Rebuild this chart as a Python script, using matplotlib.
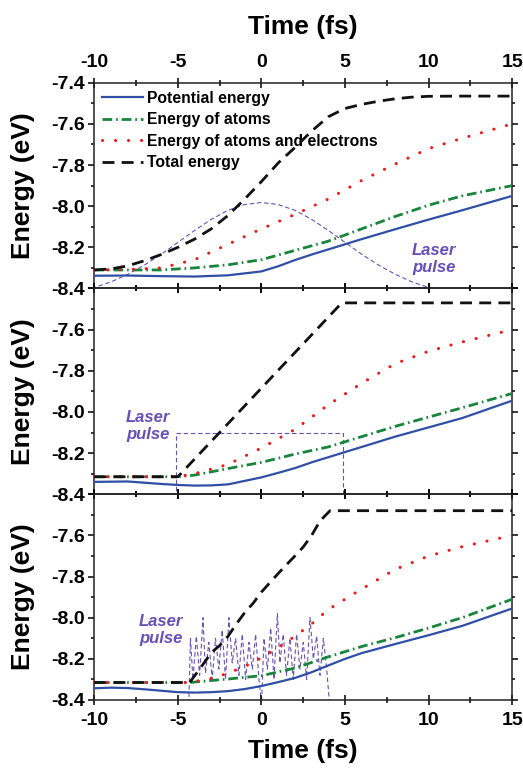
import matplotlib
matplotlib.use("Agg")
import matplotlib.pyplot as plt
from matplotlib.ticker import MultipleLocator, FixedLocator

plt.rcParams['font.family'] = ['Liberation Sans', 'DejaVu Sans']
plt.rcParams['font.weight'] = 'bold'

# ---------------- data ----------------
labels = ["Potential energy", "Energy of atoms",
          "Energy of atoms and electrons", "Total energy"]

# Panel 1 (Gaussian pulse)
p1_pot_t = [-10, -8, -6, -4, -2, 0, 1, 2, 3, 4, 5, 6, 8, 10, 12, 15]
p1_pot_e = [-8.338, -8.337, -8.340, -8.342, -8.336, -8.317, -8.292, -8.262, -8.235, -8.21, -8.185, -8.16, -8.112, -8.065, -8.02, -7.95]
p1_atm_t = [-10, -6, -4, -2, 0, 2, 4, 6, 8, 10, 12, 15]
p1_atm_e = [-8.31, -8.31, -8.30, -8.285, -8.26, -8.215, -8.17, -8.11, -8.05, -7.995, -7.95, -7.90]
p1_ae_t = [-10, -8, -6, -4, -2, 0, 2, 4, 6, 8, 10, 12, 15]
p1_ae_e = [-8.31, -8.308, -8.30, -8.26, -8.185, -8.11, -8.04, -7.965, -7.875, -7.795, -7.72, -7.67, -7.60]
p1_tot_t = [-10, -9, -8, -7, -6, -5, -4, -3, -2, -1, 0, 1, 2, 3, 4, 5, 6, 7, 8, 9, 10, 12, 15]
p1_tot_e = [-8.31, -8.305, -8.29, -8.265, -8.235, -8.20, -8.16, -8.11, -8.045, -7.965, -7.88, -7.79, -7.715,
            -7.635, -7.565, -7.525, -7.505, -7.49, -7.478, -7.47, -7.466, -7.465, -7.465]
p1_las_t = [-11, -10, -9, -8, -7, -6, -5, -4, -3, -2, -1, 0, 1, 2, 3, 4, 5, 6, 7, 8, 9, 10, 11]
p1_las_e = [-8.415, -8.395, -8.368, -8.331, -8.286, -8.234, -8.176, -8.118, -8.064, -8.020, -7.992, -7.982,
            -7.992, -8.020, -8.064, -8.118, -8.176, -8.234, -8.286, -8.331, -8.368, -8.395, -8.415]

# Panel 2 (square pulse)
p2_pot_t = [-10, -8, -6, -5, -4, -3, -2, -1, 0, 1, 2, 3, 4, 5, 6, 8, 10, 12, 15]
p2_pot_e = [-8.34, -8.338, -8.35, -8.355, -8.358, -8.357, -8.352, -8.335, -8.318, -8.296, -8.273, -8.245,
            -8.22, -8.195, -8.17, -8.12, -8.075, -8.03, -7.945]
p2_atm_t = [-10, -5, -4, -2, 0, 2, 4, 6, 8, 10, 12, 15]
p2_atm_e = [-8.315, -8.315, -8.307, -8.275, -8.245, -8.205, -8.17, -8.12, -8.07, -8.025, -7.98, -7.91]
p2_ae_t = [-10, -5, -4, -2, 0, 2, 4, 6, 8, 10, 12, 15]
p2_ae_e = [-8.315, -8.315, -8.30, -8.255, -8.175, -8.085, -7.965, -7.86, -7.765, -7.705, -7.66, -7.60]
p2_tot_t = [-10, -5, 4.8, 15]
p2_tot_e = [-8.315, -8.315, -7.47, -7.47]
p2_las_t = [-5.1, -5.1, 4.85, 4.85]
p2_las_e = [-8.42, -8.10, -8.10, -8.42]

# Panel 3 (oscillating pulse)
p3_pot_t = [-10, -9, -8, -7, -6, -5, -4, -3, -2, -1, 0, 1, 2, 3, 4, 5, 6, 8, 10, 12, 15]
p3_pot_e = [-8.343, -8.34, -8.342, -8.348, -8.355, -8.362, -8.364, -8.362, -8.357, -8.347, -8.332, -8.313,
            -8.293, -8.265, -8.232, -8.20, -8.172, -8.128, -8.085, -8.04, -7.955]
p3_atm_t = [-10, -4.3, -2, 0, 2, 4, 6, 8, 10, 12, 15]
p3_atm_e = [-8.315, -8.315, -8.298, -8.282, -8.245, -8.19, -8.14, -8.097, -8.05, -8.0, -7.91]
p3_ae_t = [-10, -4.3, -3, -2, -1, 0, 1, 2, 3, 4, 5, 6, 8, 10, 12, 15]
p3_ae_e = [-8.315, -8.315, -8.295, -8.27, -8.237, -8.195, -8.145, -8.09, -8.03, -7.96, -7.91, -7.86,
           -7.765, -7.70, -7.655, -7.60]
p3_tot_t = [-10, -4.3, -3.7, -3.0, -2.5, -2.0, -1.5, -1.0, -0.5, 0.0, 0.5, 1.0, 1.5, 2.0, 2.5, 3.0, 3.5, 4.1, 15]
p3_tot_e = [-8.315, -8.315, -8.25, -8.17, -8.135, -8.09, -8.03, -7.975, -7.93, -7.875, -7.83, -7.785,
            -7.742, -7.70, -7.656, -7.60, -7.53, -7.48, -7.48]
p3_las_t = [-4.35, -4.25, -4.1, -3.9, -3.7, -3.5, -3.35, -3.15, -2.95, -2.75, -2.55, -2.35, -2.15, -1.95,
            -1.75, -1.55, -1.35, -1.15, -0.95, -0.75, -0.55, -0.35, -0.15, 0.0, 0.15, 0.35, 0.55, 0.75,
            0.95, 1.1, 1.3, 1.5, 1.7, 1.9, 2.1, 2.3, 2.5, 2.7, 2.9, 3.1, 3.3, 3.5, 3.7, 3.9, 4.05]
p3_las_e = [-8.42, -8.10, -8.30, -8.09, -8.28, -8.00, -8.27, -8.12, -8.30, -8.10, -8.25, -8.06, -8.30,
            -8.00, -8.22, -8.10, -8.28, -8.08, -8.30, -8.12, -8.25, -8.08, -8.30, -8.42, -8.10, -8.25,
            -8.05, -8.30, -7.98, -8.22, -8.08, -8.28, -8.10, -8.30, -8.08, -8.25, -8.12, -8.30, -8.0,
            -8.20, -8.09, -8.28, -8.10, -8.25, -8.40]

xticks = [-10, -5, 0, 5, 10, 15]
yticks = [-8.4, -8.2, -8.0, -7.8, -7.6, -7.4]

laser_text_pos = [(10.3, -8.255), (-6.8, -8.07), (-6.0, -8.06)]

# ---------------- style ----------------
c_blue = '#2f4fa6'
c_green = '#17853a'
c_red = '#f01818'
c_black = '#111111'
c_purple = '#6650b8'

fig = plt.figure(figsize=(5.23, 7.71), dpi=100)
gs = fig.add_gridspec(3, 1, left=0.1803, right=0.9795, top=0.8927, bottom=0.0921, hspace=0)
axes = [fig.add_subplot(gs[i]) for i in range(3)]

panels = [
    (p1_pot_t, p1_pot_e, p1_atm_t, p1_atm_e, p1_ae_t, p1_ae_e, p1_tot_t, p1_tot_e, p1_las_t, p1_las_e),
    (p2_pot_t, p2_pot_e, p2_atm_t, p2_atm_e, p2_ae_t, p2_ae_e, p2_tot_t, p2_tot_e, p2_las_t, p2_las_e),
    (p3_pot_t, p3_pot_e, p3_atm_t, p3_atm_e, p3_ae_t, p3_ae_e, p3_tot_t, p3_tot_e, p3_las_t, p3_las_e),
]

for i, (ax, d) in enumerate(zip(axes, panels)):
    ax.set_facecolor('none')
    pt, pe, at, ae, et, ee, tt, te, lt, le = d
    ax.plot(lt, le, color=c_purple, lw=0.8, dashes=(4, 2.5), zorder=1)
    ax.plot(pt, pe, color=c_blue, lw=1.6, label=labels[0], zorder=3)
    ax.plot(at, ae, color=c_green, lw=2.0, dashes=(3.5, 1.4, 0.6, 1.4), label=labels[1], zorder=4)
    ax.plot(et, ee, color=c_red, lw=2.2, linestyle=(0, (0.05, 4.2)), dash_capstyle='round',
            solid_capstyle='round', label=labels[2], zorder=5)
    ax.plot(tt, te, color=c_black, lw=2.0, dashes=(4.3, 2.6), label=labels[3], zorder=6)
    tx, ty = laser_text_pos[i]
    ax.text(tx, ty, "Laser\npulse", color=c_purple, fontsize=12, fontstyle='italic',
            fontweight='bold', ha='center', va='center', linespacing=1.15)

    ax.set_xlim(-10, 15)
    ax.set_ylim(-8.4, -7.4)
    ax.xaxis.set_major_locator(FixedLocator(xticks))
    ax.xaxis.set_minor_locator(MultipleLocator(2.5))
    ax.yaxis.set_major_locator(FixedLocator(yticks))
    ax.yaxis.set_minor_locator(MultipleLocator(0.1))
    if i == 0:
        ax.set_yticklabels([f"{v:.1f}" for v in yticks])
    else:
        ax.set_yticklabels([f"{v:.1f}" for v in yticks[:-1]] + [""])
    for s in ax.spines.values():
        s.set_linewidth(1.1)
        s.set_color('#222222')
    ax.set_ylabel("Energy (eV)", fontsize=19, fontweight='bold')
    ax.yaxis.set_label_coords(-0.143, 0.5)

    ax.tick_params(axis='y', which='both', left=True, right=True, labelleft=True, labelright=False,
                   direction='out', labelsize=14, pad=3, width=1.1)
    ax.tick_params(axis='y', which='major', length=4)
    ax.tick_params(axis='y', which='minor', length=2.5)
    ax.tick_params(axis='x', which='both', top=True, bottom=True, width=1.1, labelsize=14, pad=5,
                   direction='inout')
    ax.tick_params(axis='x', which='major', length=7)
    ax.tick_params(axis='x', which='minor', length=4.5)
    if i == 0:
        ax.tick_params(axis='x', which='both', labeltop=True, labelbottom=False)
        ax.xaxis.set_label_position('top')
        ax.set_xlabel("Time (fs)", fontsize=19, fontweight='bold', labelpad=14)
    elif i == 1:
        ax.tick_params(axis='x', which='both', labeltop=False, labelbottom=False)
    else:
        ax.tick_params(axis='x', which='both', labeltop=False, labelbottom=True)
        ax.set_xlabel("Time (fs)", fontsize=19, fontweight='bold', labelpad=7)
    ax.set_xticklabels([str(v) for v in xticks])

# legend (top panel)
leg = axes[0].legend(loc='upper left', frameon=False, fontsize=11.3, handlelength=2.6,
                     handletextpad=0.25, labelspacing=0.42, borderaxespad=0.3, borderpad=0.2)
for t in leg.get_texts():
    t.set_fontweight('bold')

fig.savefig("out.png", dpi=100, facecolor='white')
